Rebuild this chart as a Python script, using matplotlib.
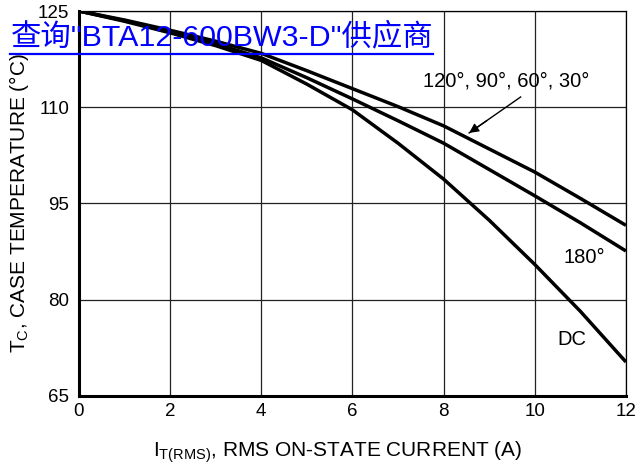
import matplotlib
matplotlib.use("Agg")
import matplotlib.pyplot as plt
from matplotlib.lines import Line2D

plt.rcParams['font.family'] = ['Liberation Sans', 'DejaVu Sans']
plt.rcParams['mathtext.fontset'] = 'custom'
plt.rcParams['mathtext.rm'] = 'Liberation Sans'
plt.rcParams['mathtext.it'] = 'Liberation Sans:italic'
plt.rcParams['mathtext.bf'] = 'Liberation Sans:bold'

# data
current = [0, 1, 2, 3, 4, 5, 6, 7, 8, 9, 10, 11, 12]
temp_120_30 = [125, 123.6, 122.0, 120.3, 118.4, 115.7, 112.9, 110.1, 107.1, 103.5, 99.9, 95.8, 91.6]
temp_180 = [125, 123.5, 121.8, 119.9, 117.7, 114.6, 111.3, 107.9, 104.4, 100.3, 96.2, 92.0, 87.6]
temp_dc = [125, 123.4, 121.6, 119.6, 117.3, 113.6, 109.6, 104.4, 98.8, 92.4, 85.5, 78.2, 70.3]

x_ticks = [0, 2, 4, 6, 8, 10, 12]
y_ticks = [65, 80, 95, 110, 125]

watermark = '查询"BTA12-600BW3-D"供应商'

fig = plt.figure(figsize=(6.4, 4.69), dpi=100)
ax = fig.add_axes([0.1234, 0.1557, 0.978 - 0.1234, 0.9765 - 0.1557])

for y in (temp_120_30, temp_180, temp_dc):
    ax.plot(current, y, color='black', lw=2.5, solid_joinstyle='round',
            solid_capstyle='butt', zorder=3)

ax.set_xlim(0, 12)
ax.set_ylim(65, 125)
ax.set_xticks(x_ticks)
ax.set_yticks(y_ticks)
ax.grid(True, color='#222222', lw=0.9)
ax.tick_params(length=0, labelsize=13.5)
ax.tick_params(axis='y', pad=7)
ax.tick_params(axis='x', pad=5)

for side in ('left', 'bottom'):
    ax.spines[side].set_linewidth(2.2)
for side in ('top', 'right'):
    ax.spines[side].set_linewidth(0.9)

ax.set_xlabel(r'I$_\mathrm{T(RMS)}$, RMS ON-STATE CURRENT (A)', fontsize=15)
ax.xaxis.set_label_coords(0.473, -0.112)
ax.set_ylabel(r'T$_\mathrm{C}$, CASE TEMPERATURE (°C)', fontsize=15)
ax.yaxis.set_label_coords(-0.088, 0.5)

ax.text(9.37, 114.1, '120°, 90°, 60°, 30°', fontsize=14.5, ha='center', va='center')
# pointer line drawn as a plain line plus a filled head
ax.plot([9.69, 8.56], [111.6, 106.0], color='black', lw=1.0, zorder=4)
ax.annotate('', xy=(8.56, 106.0), xytext=(8.95, 107.93),
            arrowprops=dict(arrowstyle='-|>', color='black', lw=1.0,
                            mutation_scale=14, shrinkA=0, shrinkB=0))
ax.text(11.08, 86.56, '180°', fontsize=14.5, ha='center', va='center')
ax.text(10.81, 73.86, 'DC', fontsize=14.5, ha='center', va='center')

fig.text(11 / 640, 1 - 45 / 469, watermark, color='#0000ff', fontsize=21.9,
         family=['Liberation Sans', 'Noto Sans CJK SC'], va='baseline', zorder=10)
fig.add_artist(Line2D([10 / 640, 433 / 640], [1 - 54 / 469, 1 - 54 / 469],
                      color='#0000ff', lw=1.6, zorder=10))

fig.savefig('out.png', dpi=100)
